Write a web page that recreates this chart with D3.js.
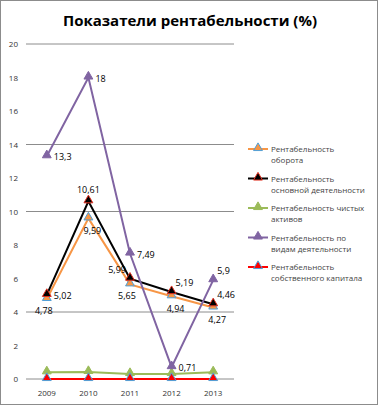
<!DOCTYPE html>
<html>
<head>
<meta charset="utf-8">
<script src="https://d3js.org/d3.v7.min.js"></script>
<style>
  body { margin: 0; background: #fff; }
  text { font-family: "Open Sans", "DejaVu Sans", sans-serif; }
</style>
</head>
<body>
<div id="graph"></div>
<script>

// data
var years = ["2009", "2010", "2011", "2012", "2013"];
var turnover = [4.78, 9.59, 5.65, 4.94, 4.27];
var mainActivity = [5.02, 10.61, 5.99, 5.19, 4.46];
var netAssets = [0.4, 0.42, 0.3, 0.3, 0.4];
var byActivity = [13.3, 18, 7.49, 0.71, 5.9];
var equity = [0, 0, 0, 0, 0];
var gridTicks = [0, 4, 10, 14, 20];
var yTicks = [0, 2, 4, 6, 8, 10, 12, 14, 16, 18, 20];

var series = [
  {name: ["Рентабельность", "оборота"], values: turnover, color: "#f79646", fill: "#f79646", stroke: "#4f9fd8",
   labels: true, pos: ["bl", "b", "bl", "b", "b"]},
  {name: ["Рентабельность", "основной деятельности"], values: mainActivity, color: "#000", fill: "#000", stroke: "#e03020",
   labels: true, pos: ["r", "t", "tl", "tr", "tr"]},
  {name: ["Рентабельность чистых", "активов"], values: netAssets, color: "#9bbb59", fill: "#9bbb59", stroke: "#9bbb59",
   labels: false},
  {name: ["Рентабельность по", "видам деятельности"], values: byActivity, color: "#8064a2", fill: "#8064a2", stroke: "#8064a2",
   labels: true, pos: ["r", "r", "r", "r", "tr"]},
  {name: ["Рентабельность", "собственного капитала"], values: equity, color: "#ff0000", fill: "#ff0000", stroke: "#4f9fd8",
   labels: false}
];

var W = 381, H = 406;
var svg = d3.select("#graph").append("svg")
  .attr("width", W).attr("height", H);

// frame
svg.append("rect")
  .attr("x", 0.5).attr("y", 0.5).attr("width", 377).attr("height", 404)
  .attr("fill", "#fff").attr("stroke", "#8c8c8c");

// title
svg.append("text")
  .attr("x", 190).attr("y", 26)
  .attr("text-anchor", "middle")
  .attr("font-weight", "bold")
  .attr("font-size", "15px")
  .attr("fill", "#000")
  .text("Показатели рентабельности (%)");

var x = d3.scaleBand().domain(years).range([26, 234]);
var y = d3.scaleLinear().domain([0, 20]).range([379, 44]);
var cx = function(i) { return x(years[i]) + x.bandwidth() / 2; };

// gridlines
svg.append("g").selectAll("line")
  .data(gridTicks).enter().append("line")
  .attr("x1", 26).attr("x2", 234)
  .attr("y1", function(d) { return y(d); })
  .attr("y2", function(d) { return y(d); })
  .attr("stroke", "#8c8c8c").attr("stroke-width", 1);

// y axis labels
svg.append("g").selectAll("text")
  .data(yTicks).enter().append("text")
  .attr("x", 18).attr("y", function(d) { return y(d) + 3; })
  .attr("text-anchor", "end")
  .attr("font-size", "8px")
  .attr("fill", "#333")
  .text(function(d) { return d; });

// x axis labels
svg.append("g").selectAll("text")
  .data(years).enter().append("text")
  .attr("x", function(d) { return x(d) + x.bandwidth() / 2; })
  .attr("y", 396)
  .attr("text-anchor", "middle")
  .attr("font-size", "8px")
  .attr("fill", "#333")
  .text(function(d) { return d; });

var line = d3.line()
  .x(function(d, i) { return cx(i); })
  .y(function(d) { return y(d); });

var tri = d3.symbol().type(d3.symbolTriangle).size(34);

series.forEach(function(s) {
  svg.append("path")
    .datum(s.values)
    .attr("d", line)
    .attr("fill", "none")
    .attr("stroke", s.color)
    .attr("stroke-width", 2);
});

series.forEach(function(s) {
  svg.append("g").selectAll("path")
    .data(s.values).enter().append("path")
    .attr("d", tri)
    .attr("transform", function(d, i) { return "translate(" + cx(i) + "," + (y(d) - 1) + ")"; })
    .attr("fill", s.fill)
    .attr("stroke", s.stroke)
    .attr("stroke-width", 1);
});

// data labels
var fmt = function(v) { return String(v).replace(".", ","); };
var offs = {
  r:  [7, 4, "start"],
  t:  [0, -8, "middle"],
  tl: [-4, -6, "end"],
  tr: [4, -6, "start"],
  b:  [4, 16, "middle"],
  bl: [-3, 15, "middle"]
};
series.forEach(function(s) {
  if (!s.labels) return;
  svg.append("g").selectAll("text")
    .data(s.values).enter().append("text")
    .attr("x", function(d, i) { return cx(i) + offs[s.pos[i]][0]; })
    .attr("y", function(d, i) { return y(d) + offs[s.pos[i]][1]; })
    .attr("text-anchor", function(d, i) { return offs[s.pos[i]][2]; })
    .attr("font-size", "9px")
    .attr("fill", "#000")
    .text(fmt);
});

// legend
var legend = svg.append("g");
series.forEach(function(s, k) {
  var ly = 152 + k * 29.5;
  var g = legend.append("g").attr("transform", "translate(0," + ly + ")");
  g.append("line")
    .attr("x1", 248).attr("x2", 268).attr("y1", -3).attr("y2", -3)
    .attr("stroke", s.color).attr("stroke-width", 2);
  g.append("path")
    .attr("d", tri)
    .attr("transform", "translate(258,-4)")
    .attr("fill", s.fill).attr("stroke", s.stroke).attr("stroke-width", 1);
  s.name.forEach(function(t, j) {
    g.append("text")
      .attr("x", 271).attr("y", j * 11)
      .attr("font-size", "8px")
      .attr("fill", "#444")
      .text(t);
  });
});

</script>
</body>
</html>
